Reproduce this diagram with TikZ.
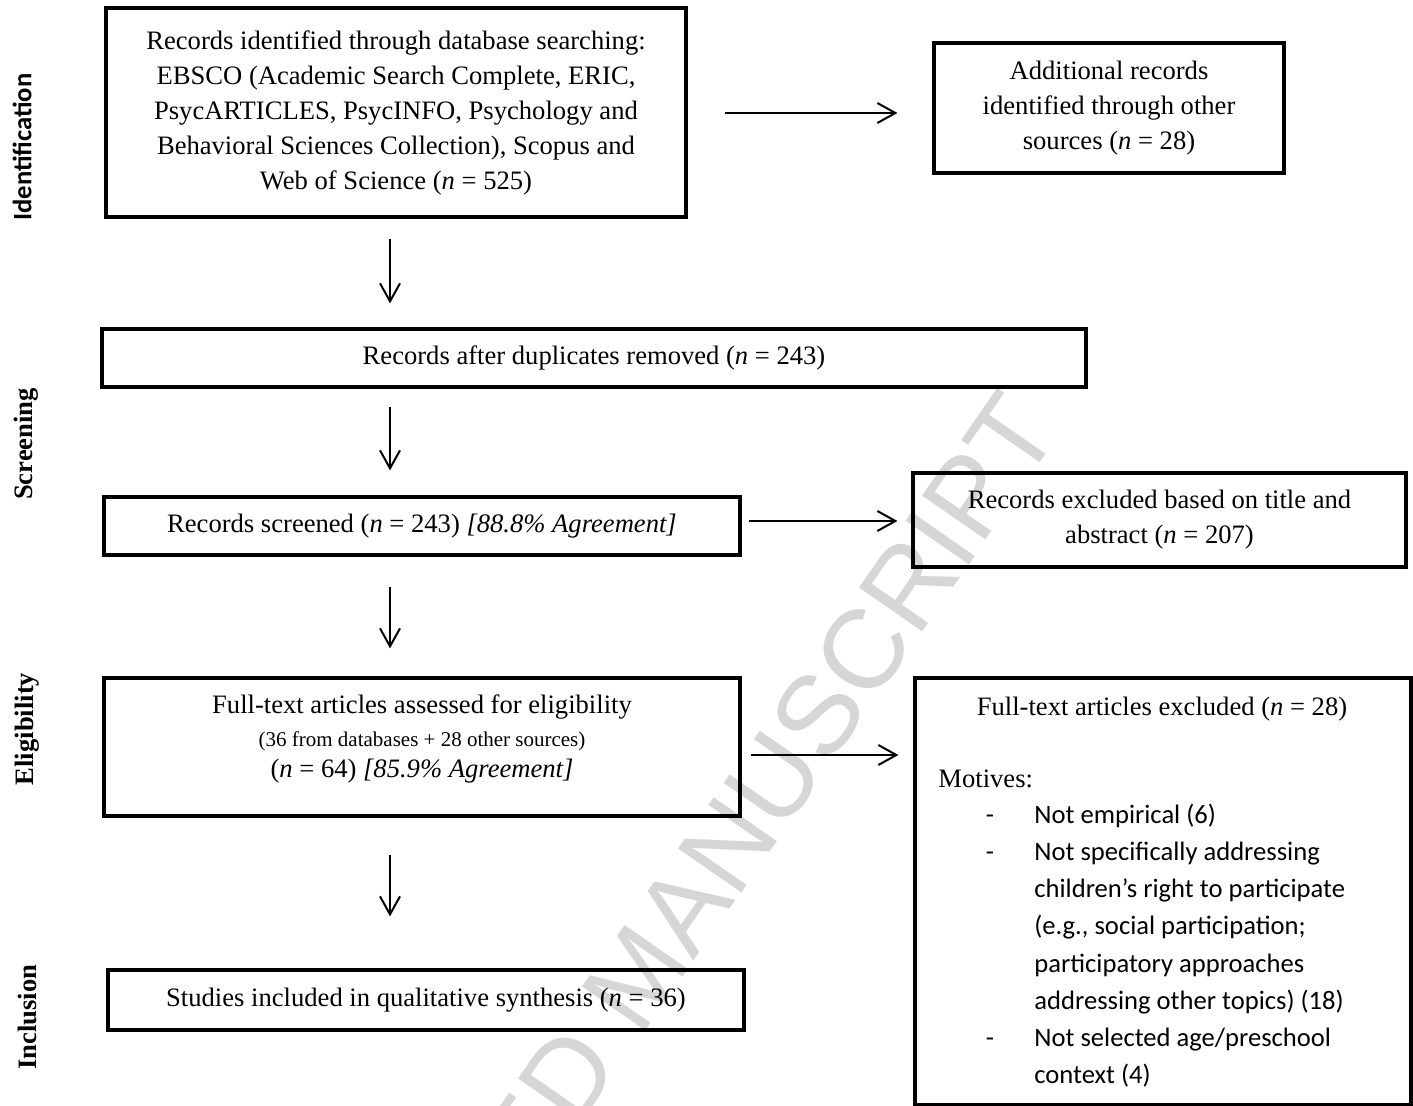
\documentclass[tikz,border=0pt]{standalone}
\usepackage{fontspec}
\setmainfont{Liberation Serif}
\newfontfamily\calibrifont{Carlito}
\newfontfamily\wmfont{Liberation Sans}
\usetikzlibrary{arrows.meta,decorations.text}
\definecolor{wmgray}{RGB}{214,214,214}
\newcommand\mainsz{\fontsize{13.3}{17.5}\selectfont}
\newcommand\smallsz{\fontsize{10.5}{13}\selectfont}
\newcommand\wmstyle{\wmfont\fontsize{56}{60}\selectfont}
\begin{document}
\begin{tikzpicture}[x=0.5pt,y=-0.5pt,
  box/.style={draw, line width=1.6pt, inner sep=0pt, font=\mainsz, align=center},
  arr/.style={line width=1pt, -{Straight Barb[length=9pt,width=10pt,line width=1pt]}},
  lbl/.style={rotate=90, inner sep=0pt, font=\mainsz\bfseries},
  txt/.style={font=\mainsz, inner sep=0pt},
  ctxt/.style={font=\mainsz\calibrifont, inner sep=0pt, anchor=base west},
]
\useasboundingbox (0,0) rectangle (1413,1106);
\clip (0,0) rectangle (1413,1106);

% watermark
\path[decorate, decoration={text along path, text color=wmgray, text align=left,
  text={|\wmstyle|ED MANUSCRIPT}}] (534,1192) -- (1103,372);

% boxes
\node[box, minimum width=290pt, minimum height=104.5pt] (b1) at (396,112.5)
  {Records identified through database searching:\\EBSCO (Academic Search Complete, ERIC,\\PsycARTICLES, PsycINFO, Psychology and\\Behavioral Sciences Collection), Scopus and\\Web of Science (\textit{n} = 525)};
\node[box, minimum width=175pt, minimum height=65pt] (b2) at (1109,108)
  {Additional records\\identified through other\\sources (\textit{n} = 28)};
\node[box, minimum width=492pt, minimum height=29pt] (b5) at (594,358)
  {Records after duplicates removed (\textit{n} = 243)};
\node[box, minimum width=318pt, minimum height=29pt] (b7) at (422,526)
  {Records screened (\textit{n} = 243) \textit{[88.8\% Agreement]}};
\node[box, minimum width=246.5pt, minimum height=47pt] (b9) at (1159.5,520)
  {Records excluded based on title and\\abstract (\textit{n} = 207)};
\node[box, minimum width=318pt, minimum height=69pt] (b11) at (422,747) {};
\node[txt] (f1) at (422,707) {Full-text articles assessed for eligibility};
\node[txt, font=\smallsz] (f2) at (422,741) {(36 from databases + 28 other sources)};
\node[txt] (f3) at (422,771) {(\textit{n} = 64) \textit{[85.9\% Agreement]}};
\node[box, minimum width=248pt, minimum height=213.5pt] (b13) at (1163,891.5) {};
\node[txt, anchor=base] (x1) at (1162,715) {Full-text articles excluded (\textit{n} = 28)};
\node[txt, anchor=base west] (mot) at (938,787) {Motives:};
\node[ctxt, anchor=base] (d1) at (990,823) {-};
\node[ctxt, anchor=base] (d2) at (990,860) {-};
\node[ctxt, anchor=base] (d3) at (990,1046) {-};
\node[ctxt] (m1) at (1034,823) {Not empirical (6)};
\node[ctxt] (m2) at (1034,860) {Not specifically addressing};
\node[ctxt] (m3) at (1034,897) {children’s right to participate};
\node[ctxt] (m4) at (1034,934) {(e.g., social participation;};
\node[ctxt] (m5) at (1034,972) {participatory approaches};
\node[ctxt] (m6) at (1034,1009) {addressing other topics) (18)};
\node[ctxt] (m7) at (1034,1046) {Not selected age/preschool};
\node[ctxt] (m8) at (1034,1083) {context (4)};
\node[box, minimum width=318pt, minimum height=30pt] (b15) at (426,1000)
  {Studies included in qualitative synthesis (\textit{n} = 36)};

% stage labels
\node[lbl, font=\mainsz\calibrifont\bfseries] (lid) at (22,147) {Identification};
\node[lbl] (lsc) at (26,444) {Screening};
\node[lbl] (lel) at (27,729) {Eligibility};
\node[lbl] (lin) at (27,1017) {Inclusion};

% connectors
\coordinate (xcol) at (390,0);
\coordinate (ya) at (0,113);
\coordinate (yb) at (0,521);
\coordinate (yc) at (0,755);
\draw[arr, shorten <=10pt, shorten >=12pt] (b1.south -| xcol) -- (b5.north -| xcol);
\draw[arr, shorten <=9pt, shorten >=12.5pt] (b5.south -| xcol) -- (b7.north -| xcol);
\draw[arr, shorten <=15pt, shorten >=14pt] (b7.south -| xcol) -- (b11.north -| xcol);
\draw[arr, shorten <=18.5pt, shorten >=26pt] (b11.south -| xcol) -- (b15.north -| xcol);
\draw[arr, shorten <=18.5pt, shorten >=17.5pt] (b1.east |- ya) -- (b2.west |- ya);
\draw[arr, shorten <=3.5pt, shorten >=7pt] (b7.east |- yb) -- (b9.west |- yb);
\draw[arr, shorten <=4.5pt, shorten >=7.5pt] (b11.east |- yc) -- (b13.west |- yc);
\end{tikzpicture}
\end{document}
